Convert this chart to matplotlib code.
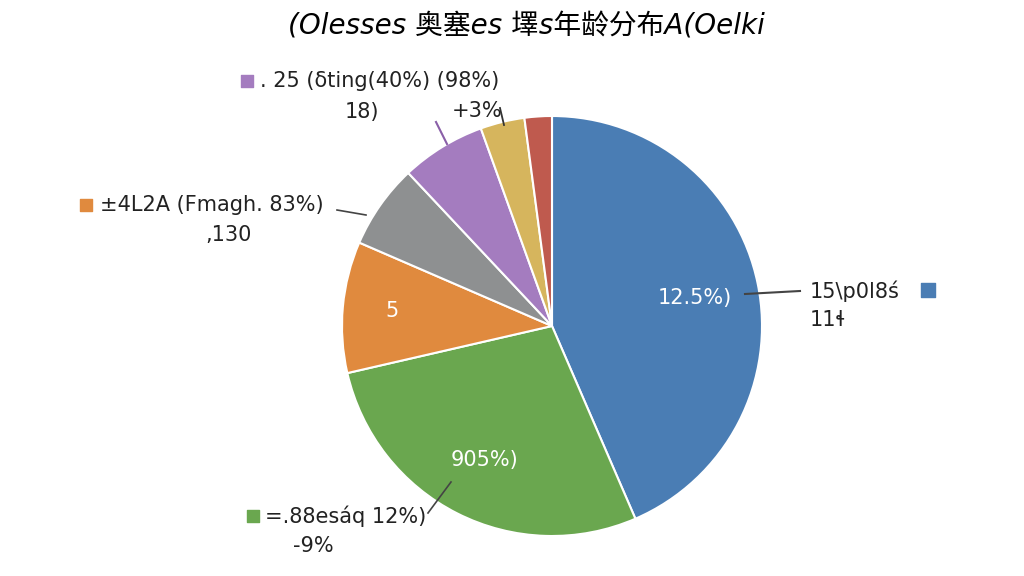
import matplotlib
matplotlib.use("Agg")
import matplotlib.pyplot as plt

plt.rcParams['font.family'] = ['DejaVu Sans', 'Noto Sans CJK SC']

# Slice shares, clockwise from 12 o'clock
shares = [43.5, 27.9, 10.1, 6.5, 6.5, 3.4, 2.1]
colours = ["#4a7db4", "#6aa74f", "#e08a3e", "#8e9091", "#a47cbf", "#d6b55d", "#bf5a4e"]

title = "(Olesses 奥塞es 墿s年龄分布A(Oelki"

# Text found inside the slices
inner_texts = ["12.5%)", "905%)", "5"]

# Outer callouts
blue_label = ["15\\p0l8ś", "11ɬ"]
green_label = ["=.88esáq 12%)", "-9%"]
orange_label = ["±4L2A (Fmagh. 83%)", ",130"]
purple_label = [". 25 (δting(40%) (98%)", "18)"]
yellow_label = "+3%"

H = 576
fig = plt.figure(figsize=(10.24, 5.76), dpi=100)
ax = fig.add_axes([0, 0, 1, 1])

def y(py):
    # picture rows -> data coords
    return H - py

wedges, _ = ax.pie(shares, colors=colours, startangle=90, counterclock=False,
                   center=(552, y(326)), radius=210, frame=True,
                   wedgeprops=dict(edgecolor="white", linewidth=1.5))
ax.set_xlim(0, 1024)
ax.set_ylim(0, H)
ax.set_aspect("equal")
ax.axis("off")

fig.text(526 / 1024, 1 - 27 / H, title, ha="center", va="center", fontsize=20,
         style="italic", family=['DejaVu Sans', 'Noto Sans CJK SC'])

# inside labels
ax.text(695, y(298), inner_texts[0], color="white", fontsize=15, ha="center", va="center")
ax.text(485, y(460), inner_texts[1], color="white", fontsize=15, ha="center", va="center")
ax.text(392, y(311), inner_texts[2], color="white", fontsize=15, ha="center", va="center")

tc = "#222222"
fs = 15

# blue callout
ax.plot([745, 800], [y(294), y(291)], color="#444444", lw=1.5)
ax.text(810, y(291), blue_label[0], fontsize=fs, color=tc, va="center")
ax.text(810, y(320), blue_label[1], fontsize=fs, color=tc, va="center")
ax.scatter([928], [y(290)], marker="s", s=90, color=colours[0])

# green callout
ax.plot([428, 451], [y(513), y(482)], color="#444444", lw=1.2)
ax.scatter([253], [y(516)], marker="s", s=80, color=colours[1])
ax.text(265, y(516), green_label[0], fontsize=fs, color=tc, va="center")
ax.text(293, y(546), green_label[1], fontsize=fs, color=tc, va="center")

# orange / gray callout
ax.plot([337, 366], [y(210), y(215)], color="#444444", lw=1.2)
ax.scatter([86], [y(205)], marker="s", s=80, color=colours[2])
ax.text(100, y(205), orange_label[0], fontsize=fs, color=tc, va="center")
ax.text(205, y(235), orange_label[1], fontsize=fs, color=tc, va="center")

# purple callout
ax.plot([436, 447], [y(122), y(144)], color="#8a5fa8", lw=1.5)
ax.scatter([247], [y(81)], marker="s", s=80, color=colours[4])
ax.text(260, y(81), purple_label[0], fontsize=fs, color=tc, va="center")
ax.text(345, y(112), purple_label[1], fontsize=fs, color=tc, va="center")

# yellow callout
ax.plot([500, 504], [y(108), y(125)], color="#333333", lw=1.3)
ax.text(452, y(111), yellow_label, fontsize=fs, color=tc, va="center")

fig.savefig("out.png", dpi=100, facecolor="white")
